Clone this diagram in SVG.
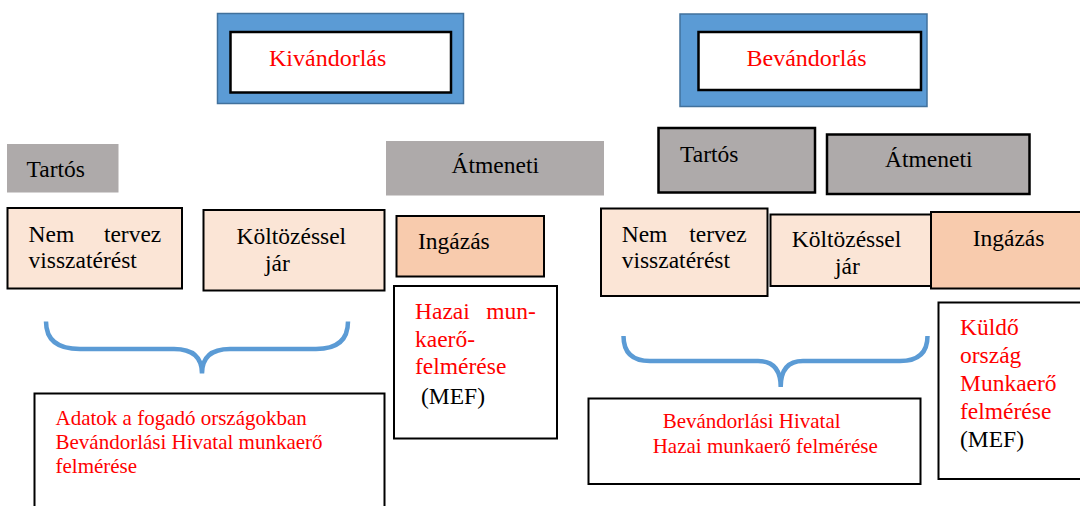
<svg xmlns="http://www.w3.org/2000/svg" width="1080" height="506" viewBox="0 0 1080 506">
<style>
.title{fill:#FF0000}
.red{fill:#FF0000}
.blue{fill:#5B9BD5;stroke:#41719C;stroke-width:1.5}
.inner{fill:#FFFFFF;stroke:#000;stroke-width:2.5}
.gray{fill:#AEAAAA}
.grayb{fill:#AEAAAA;stroke:#000;stroke-width:2.5}
.peach{fill:#FBE5D6;stroke:#000;stroke-width:2}
.peach2{fill:#F8CBAD;stroke:#000;stroke-width:2}
.wbox{fill:#FFFFFF;stroke:#000;stroke-width:2}
.brace{fill:none;stroke:#5B9BD5;stroke-width:4.5}
</style>
<rect width="1080" height="506" fill="#FFFFFF"/>

<g id="kivandorlas">
<rect class="blue" x="217.5" y="13.5" width="246" height="90"/>
<rect class="inner" x="230.5" y="32" width="220.5" height="60.5"/>
<text class="title" font-family="Liberation Serif" font-size="24" x="269" y="66">Kivándorlás</text>
</g>
<g id="bevandorlas">
<rect class="blue" x="680" y="14" width="247" height="92.5"/>
<rect class="inner" x="698.5" y="32" width="222.5" height="58"/>
<text class="title" font-family="Liberation Serif" font-size="24" x="746.5" y="65.5">Bevándorlás</text>
</g>

<g id="tartos-left">
<rect class="gray" x="7" y="144" width="111.5" height="48.5"/>
<text font-family="Liberation Serif" font-size="23.5" x="26.5" y="176.5">Tartós</text>
</g>
<g id="atmeneti-left">
<rect class="gray" x="386" y="141" width="218" height="54.5"/>
<text font-family="Liberation Serif" font-size="23.5" x="451.5" y="173.3">Átmeneti</text>
</g>
<g id="tartos-right">
<rect class="grayb" x="658.5" y="128" width="156.5" height="64.5"/>
<text font-family="Liberation Serif" font-size="23.5" x="680" y="161.5">Tartós</text>
</g>
<g id="atmeneti-right">
<rect class="grayb" x="827" y="134.5" width="202.5" height="59.5"/>
<text font-family="Liberation Serif" font-size="23.5" x="885" y="166.5">Átmeneti</text>
</g>

<g id="nem-tervez-left">
<rect class="peach" x="7.5" y="208" width="174.5" height="80.5"/>
<text font-family="Liberation Serif" font-size="23.5" x="28.5" y="242.3">Nem</text>
<text font-family="Liberation Serif" font-size="23.5" x="161.3" y="242.3" text-anchor="end">tervez</text>
<text font-family="Liberation Serif" font-size="23.5" x="28.5" y="268.3">visszatérést</text>
</g>
<g id="koltozessel-left">
<rect class="peach" x="203.5" y="210" width="181" height="80.5"/>
<text font-family="Liberation Serif" font-size="23.5" x="236.5" y="244.3">Költözéssel</text>
<text font-family="Liberation Serif" font-size="23.5" x="265" y="270.7">jár</text>
</g>
<g id="ingazas-left">
<rect class="peach2" x="396.5" y="216" width="147.5" height="60.5"/>
<text font-family="Liberation Serif" font-size="23.5" x="418" y="249.3">Ingázás</text>
</g>

<g id="nem-tervez-right">
<rect class="peach" x="601" y="208.5" width="166.5" height="87.5"/>
<text font-family="Liberation Serif" font-size="23.5" x="621.7" y="241.7">Nem</text>
<text font-family="Liberation Serif" font-size="23.5" x="746.7" y="241.7" text-anchor="end">tervez</text>
<text font-family="Liberation Serif" font-size="23.5" x="621.7" y="268.3">visszatérést</text>
</g>
<g id="koltozessel-right">
<rect class="peach" x="770.5" y="214.5" width="161" height="71.5"/>
<text font-family="Liberation Serif" font-size="23.5" x="791.7" y="247.3">Költözéssel</text>
<text font-family="Liberation Serif" font-size="23.5" x="835" y="274">jár</text>
</g>
<g id="ingazas-right">
<rect class="peach2" x="931" y="212" width="152" height="76.5"/>
<text font-family="Liberation Serif" font-size="23.5" x="972.7" y="246">Ingázás</text>
</g>

<g id="hazai-mef">
<rect class="wbox" x="394" y="286" width="163" height="152.5"/>
<text class="red" font-family="Liberation Serif" font-size="23.5" x="415" y="319.3">Hazai</text>
<text class="red" font-family="Liberation Serif" font-size="23.5" x="535.8" y="319.3" text-anchor="end">mun-</text>
<text class="red" font-family="Liberation Serif" font-size="23.5" x="415" y="346.5">kaerő-</text>
<text class="red" font-family="Liberation Serif" font-size="23.5" x="415" y="374">felmérése</text>
<text font-family="Liberation Serif" font-size="23.5" x="421" y="404">(MEF)</text>
</g>
<g id="kuldo-mef">
<rect class="wbox" x="938.5" y="302.5" width="150" height="176.5"/>
<text class="red" font-family="Liberation Serif" font-size="23.5" x="960" y="335">Küldő</text>
<text class="red" font-family="Liberation Serif" font-size="23.5" x="960" y="363">ország</text>
<text class="red" font-family="Liberation Serif" font-size="23.5" x="960" y="391">Munkaerő</text>
<text class="red" font-family="Liberation Serif" font-size="23.5" x="960" y="418.5">felmérése</text>
<text font-family="Liberation Serif" font-size="23.5" x="960" y="446.5">(MEF)</text>
</g>
<g id="adatok">
<rect class="wbox" x="34.5" y="393.5" width="350" height="130"/>
<text class="red" font-family="Liberation Serif" font-size="21" x="55.5" y="425">Adatok a fogadó országokban</text>
<text class="red" font-family="Liberation Serif" font-size="21" x="55.5" y="448.5">Bevándorlási Hivatal munkaerő</text>
<text class="red" font-family="Liberation Serif" font-size="21" x="55.5" y="472.5">felmérése</text>
</g>
<g id="bevandorlasi-hivatal">
<rect class="wbox" x="588.5" y="398.5" width="332" height="85.5"/>
<text class="red" font-family="Liberation Serif" font-size="21" x="662.7" y="428.3">Bevándorlási Hivatal</text>
<text class="red" font-family="Liberation Serif" font-size="21" x="652.7" y="452.7">Hazai munkaerő felmérése</text>
</g>

<g id="connectors">
<path class="brace" d="M46,321.5 Q46,349 80,349 L174,349 Q202,349 202,373.5 Q202,349 230,349 L316,349 Q348,349 348,321.5"/>
<path class="brace" d="M623.5,336 Q623.5,361 650,361 L758,361 Q780.7,361 780.7,387 Q780.7,361 803,361 L900,361 Q927.5,361 927.5,336"/>
</g>
</svg>
